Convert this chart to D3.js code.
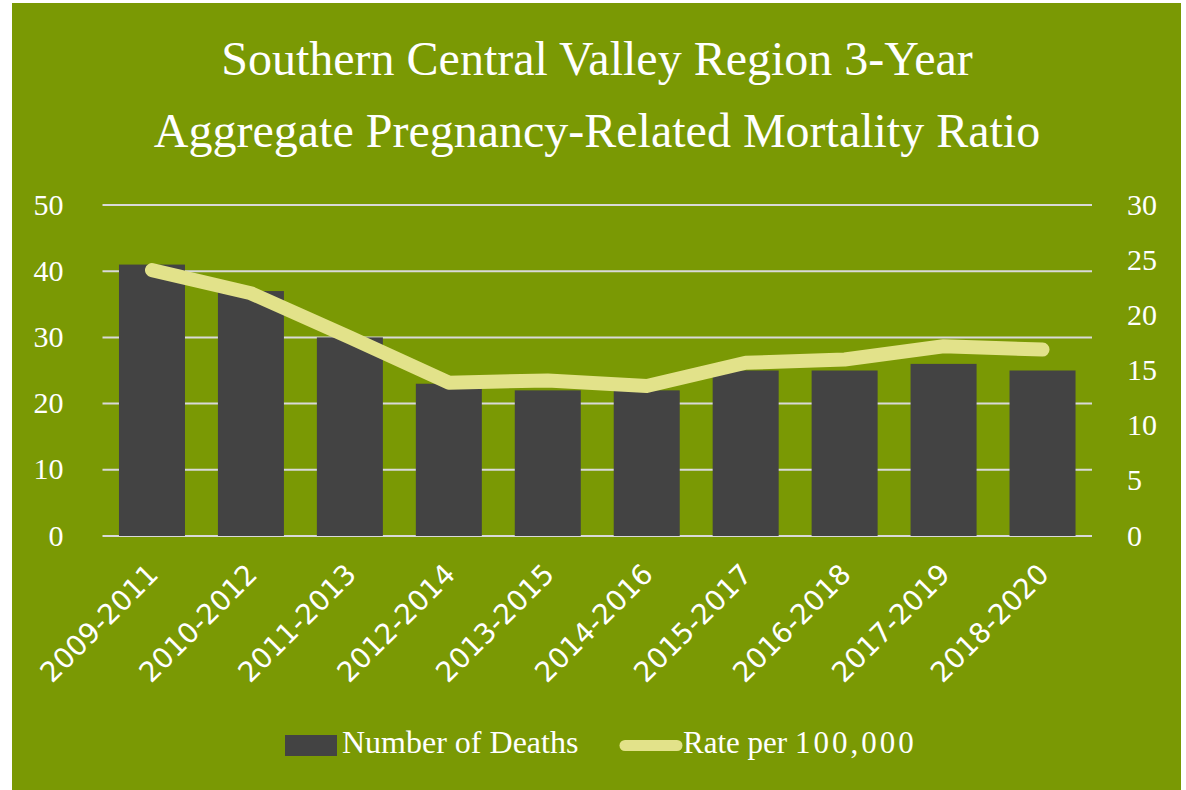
<!DOCTYPE html>
<html>
<head>
<meta charset="utf-8">
<script src="https://cdn.jsdelivr.net/npm/d3@7/dist/d3.min.js"></script>
<style>
  html, body { margin: 0; padding: 0; background: #ffffff; }
  svg { display: block; }
</style>
</head>
<body>
<svg id="chart" width="1186" height="790"></svg>
<script>
const categories = ["2009-2011","2010-2012","2011-2013","2012-2014","2013-2015","2014-2016","2015-2017","2016-2018","2017-2019","2018-2020"];
const deaths = [41, 37, 30, 23, 22, 22, 25, 25, 26, 25];
const rates = [24.1, 22.0, 18.0, 13.9, 14.1, 13.6, 15.7, 16.0, 17.2, 16.9];
const leftTicks = [0, 10, 20, 30, 40, 50];
const rightTicks = [0, 5, 10, 15, 20, 25, 30];
const titleLines = ["Southern Central Valley Region 3-Year", "Aggregate Pregnancy-Related Mortality Ratio"];
const seriesNames = ["Number of Deaths", "Rate per 100,000"];

const BG = "#7a9904", BAR = "#434343", LINE = "#e2e28a", GRID = "#d9d9d9";
const svg = d3.select("#chart");
const serif = "'Liberation Serif', 'Times New Roman', serif";
const sans = "'DejaVu Sans', 'Open Sans', sans-serif";

svg.append("rect").attr("x", 12).attr("y", 3).attr("width", 1169).attr("height", 787).attr("fill", BG);

const plot = {left: 102.5, right: 1092, top: 205, bottom: 536};

const x = d3.scaleBand().domain(categories).range([plot.left, plot.right]).paddingInner(0.333).paddingOuter(0.1665);
const yL = d3.scaleLinear().domain([0, 50]).range([plot.bottom, plot.top]);
const yR = d3.scaleLinear().domain([0, 30]).range([plot.bottom, plot.top]);

// title
svg.append("g").selectAll("text").data(titleLines).join("text")
  .attr("x", 597).attr("y", (d, i) => 75 + i * 72)
  .attr("text-anchor", "middle").attr("fill", "#ffffff")
  .style("font-family", serif).style("font-size", "48px")
  .text(d => d);

// gridlines
svg.append("g").selectAll("line").data(leftTicks).join("line")
  .attr("x1", plot.left).attr("x2", plot.right)
  .attr("y1", d => yL(d)).attr("y2", d => yL(d))
  .attr("stroke", GRID).attr("stroke-width", 2);

// left axis
const axL = svg.append("g").attr("transform", `translate(${plot.left},0)`)
  .call(d3.axisLeft(yL).tickValues(leftTicks).tickSize(0).tickPadding(39));
axL.select(".domain").remove();
axL.selectAll("text").attr("fill", "#fff").style("font-family", serif).style("font-size", "30px").attr("dy", "0.3em");

// right axis
const axR = svg.append("g").attr("transform", `translate(${plot.right},0)`)
  .call(d3.axisRight(yR).tickValues(rightTicks).tickSize(0).tickPadding(35));
axR.select(".domain").remove();
axR.selectAll("text").attr("fill", "#fff").style("font-family", serif).style("font-size", "30px").attr("dy", "0.3em");

// bars
svg.append("g").selectAll("rect").data(categories).join("rect")
  .attr("x", d => x(d)).attr("width", x.bandwidth())
  .attr("y", (d, i) => yL(deaths[i])).attr("height", (d, i) => yL(0) - yL(deaths[i]))
  .attr("fill", BAR);

// line
const line = d3.line().x((d, i) => x(categories[i]) + x.bandwidth() / 2).y(d => yR(d));
svg.append("path").datum(rates).attr("d", line)
  .attr("fill", "none").attr("stroke", LINE).attr("stroke-width", 14)
  .attr("stroke-linecap", "round").attr("stroke-linejoin", "round");

// category axis
const axB = svg.append("g").attr("transform", `translate(0,${plot.bottom})`)
  .call(d3.axisBottom(x).tickSize(0).tickPadding(0));
axB.select(".domain").remove();
axB.selectAll("text")
  .attr("fill", "#fff").style("font-family", sans).style("font-size", "28px")
  .attr("text-anchor", "end").attr("dy", null).attr("y", 0)
  .attr("transform", "translate(8,40) rotate(-45)");

// legend
const lg = svg.append("g");
lg.append("rect").attr("x", 285).attr("y", 735).attr("width", 52).attr("height", 21).attr("fill", BAR);
lg.append("text").attr("x", 342).attr("y", 753).attr("fill", "#fff")
  .style("font-family", serif).style("font-size", "32px").text(seriesNames[0]);
lg.append("line").attr("x1", 625).attr("x2", 677).attr("y1", 745.5).attr("y2", 745.5)
  .attr("stroke", LINE).attr("stroke-width", 11).attr("stroke-linecap", "round");
const t2 = lg.append("text").attr("x", 683).attr("y", 753).attr("fill", "#fff")
  .style("font-family", serif).style("font-size", "31px");
t2.append("tspan").text("Rate per ");
t2.append("tspan").style("letter-spacing", "3px").text("100,000");
</script>
</body>
</html>
